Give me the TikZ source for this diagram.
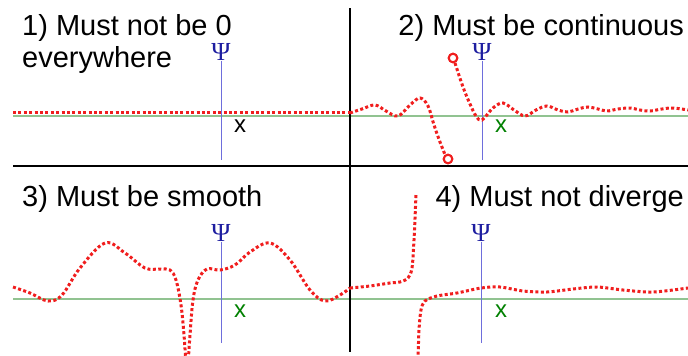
\documentclass[tikz,border=0pt]{standalone}
\usepackage{fontspec}
\setmainfont{Liberation Sans}
\newfontfamily\psifont{Liberation Serif}
\begin{document}
\begin{tikzpicture}[x=1pt,y=-1pt,
  title/.style={font=\fontsize{29}{32}\selectfont, inner sep=0pt},
  psilbl/.style={font=\psifont\fontsize{26}{26}\selectfont, text=psiblue, inner sep=0pt},
  xlbl/.style={font=\fontsize{24}{24}\selectfont, inner sep=0pt},
  axisline/.style={draw=axisblue, line width=1pt},
  baseline/.style={draw=lightgreen, line width=1.6pt},
  divider/.style={draw=black, line width=2pt},
  wave/.style={draw=red, line width=3pt, dash pattern=on 3pt off 2.4pt},
  endcirc/.style={circle, draw=red, fill=white, line width=2pt, minimum size=8.5pt, inner sep=0pt}
]
\definecolor{psiblue}{RGB}{30,30,160}
\definecolor{axisblue}{RGB}{110,110,220}
\definecolor{lightgreen}{RGB}{145,195,145}
\definecolor{xgreen}{RGB}{0,128,0}
\definecolor{red}{RGB}{240,30,30}
\useasboundingbox (0,0) rectangle (688,356);
\clip (0,0) rectangle (688,356);

% green baselines
\coordinate (g1l) at (13,116); \coordinate (g1r) at (688,116);
\coordinate (g2l) at (13,299); \coordinate (g2r) at (688,299);
\draw[baseline] (g1l) -- (g1r);
\draw[baseline] (g2l) -- (g2r);

% dividers
\coordinate (vt) at (350,8); \coordinate (vb) at (350,352);
\coordinate (hl) at (13,166); \coordinate (hr) at (688,166);
\draw[divider] (vt) -- (vb);
\draw[divider] (hl) -- (hr);

% titles
\node[title, anchor=base west] (t1) at (22,35) {1) Must not be 0};
\node[title, anchor=base west] (t1b) at (22,67) {everywhere};
\node[title, anchor=base east] (t2) at (684,35) {2) Must be continuous};
\node[title, anchor=base west] (t3) at (22,206) {3) Must be smooth};
\node[title, anchor=base east] (t4) at (684,206) {4) Must not diverge};

% axes
\node[psilbl] (p1) at (221,52) {Ψ};
\coordinate (a1) at (221,160);
\draw[axisline] (p1.south) -- (a1);
\node[psilbl] (p2) at (482,52) {Ψ};
\coordinate (a2) at (482,160);
\draw[axisline] (p2.south) -- (a2);
\node[psilbl] (p3) at (221,233) {Ψ};
\coordinate (a3) at (221,343);
\draw[axisline] (p3.south) -- (a3);
\node[psilbl] (p4) at (481,233) {Ψ};
\coordinate (a4) at (481,343);
\draw[axisline] (p4.south) -- (a4);

% x labels
\node[xlbl] (x1) at (240,126) {x};
\node[xlbl, text=xgreen] (x2) at (501,126) {x};
\node[xlbl, text=xgreen] (x3) at (240,311) {x};
\node[xlbl, text=xgreen] (x4) at (501,311) {x};

% panel 1 wave
\coordinate (w1l) at (13,112); \coordinate (w1r) at (350,112);
\draw[wave] (w1l) -- (w1r);

% panel 2 wave
\node[endcirc] (c1) at (448,159) {};
\node[endcirc] (c2) at (453,58) {};
\draw[wave] plot[smooth, tension=0.6] coordinates {(350,113) (362,109) (375,105) (386,111) (398,116) (410,105) (420,98) (428,106) (434,125) (440,142) (446,157)};
\draw[wave] plot[smooth, tension=0.6] coordinates {(455,63) (463,87) (470,104) (476,116) (482,120) (493,108) (503,103) (514,110) (525,116) (536,110) (547,106) (558,110) (568,112) (578,109) (588,107) (598,109) (607,111) (618,109) (630,108) (640,110) (650,111) (662,109) (673,108) (688,110)};
\node[endcirc] at (c1) {};
\node[endcirc] at (c2) {};

% panel 3 wave
\draw[wave] plot[smooth, tension=0.6] coordinates {(13,287) (30,293) (48,301) (62,295) (80,268) (105,243) (125,253) (145,268) (160,269) (170,270) (176,280) (181,305) (184,335) (186,365)};
\draw[wave] plot[smooth, tension=0.6] coordinates {(188,365) (190,335) (193,300) (198,280) (207,269) (220,270) (235,265) (250,252) (270,243) (290,260) (310,290) (325,301) (340,295) (350,288)};

% panel 4 wave
\draw[wave] plot[smooth, tension=0.5] coordinates {(350,288) (370,286) (390,283) (400,282) (408,278) (412,268) (414,240) (416,195)};
\draw[wave] plot[smooth, tension=0.5] coordinates {(418,360) (419,330) (421,310) (425,301) (437,296) (457,293) (481,288) (500,287) (523,291) (547,292) (573,289) (597,287) (623,290) (653,292) (688,288)};
\end{tikzpicture}
\end{document}
